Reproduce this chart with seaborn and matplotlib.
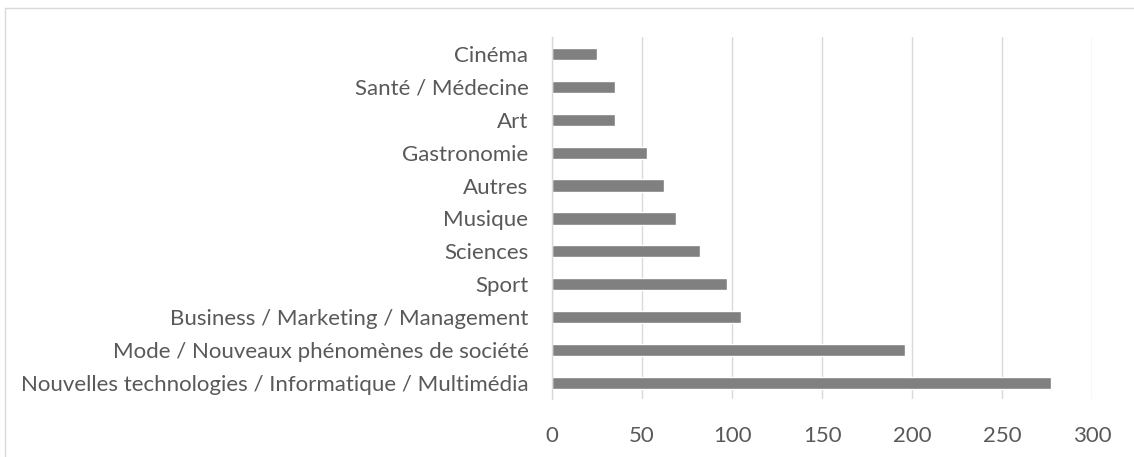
import pandas as pd
import matplotlib
matplotlib.use('Agg')
import matplotlib.pyplot as plt
import seaborn as sns
from matplotlib.lines import Line2D

categories = ['Cinéma', 'Santé / Médecine', 'Art', 'Gastronomie', 'Autres', 'Musique',
              'Sciences', 'Sport', 'Business / Marketing / Management',
              'Mode / Nouveaux phénomènes de société',
              'Nouvelles technologies / Informatique / Multimédia']
values = [25, 35, 35, 53, 62, 69, 82, 97, 105, 196, 277]
x_ticks = [0, 50, 100, 150, 200, 250, 300]

df = pd.DataFrame({'Catégorie': categories, 'Nombre': values})

sns.set_style('white')
plt.rcParams['font.family'] = ['Lato', 'DejaVu Sans']

fig = plt.figure(figsize=(11.34, 4.57), dpi=100)
ax = fig.add_axes([0.4868, 0.126, 0.4762, 0.792])

sns.barplot(data=df, x='Nombre', y='Catégorie', color='#808080', saturation=1,
            width=0.37, ax=ax, orient='h')

ax.set_xlim(0, 300)
ax.set_xticks(x_ticks)
ax.set_ylim(len(categories) - 0.5, -0.5)
ax.xaxis.grid(True, color='#d9d9d9', linewidth=1)
ax.set_axisbelow(True)
for s in ['top', 'right', 'bottom']:
    ax.spines[s].set_visible(False)
ax.spines['left'].set_color('#d9d9d9')
ax.spines['left'].set_linewidth(1)
ax.set_xlabel('')
ax.set_ylabel('')
ax.tick_params(axis='both', length=0, colors='#595959', labelsize=16)
ax.tick_params(axis='x', pad=19)
ax.tick_params(axis='y', pad=17)

# chart border
fig.add_artist(Line2D([0.004, 0.004], [0, 0.982], color='#d9d9d9', lw=1, transform=fig.transFigure))
fig.add_artist(Line2D([0.004, 1], [0.982, 0.982], color='#d9d9d9', lw=1, transform=fig.transFigure))

fig.savefig('out.png', dpi=100)
